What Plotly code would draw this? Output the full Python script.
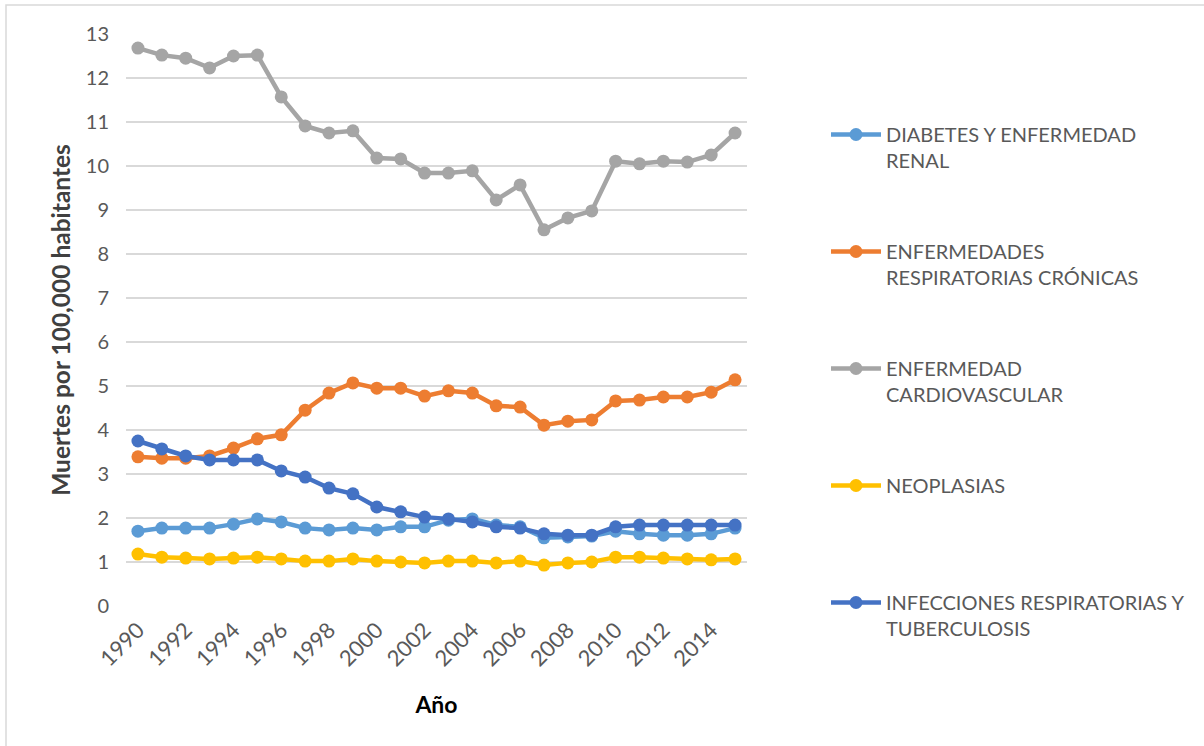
import plotly.graph_objects as go

years = list(range(1990, 2016))

diabetes = [1.70, 1.77, 1.77, 1.77, 1.86, 1.98, 1.91, 1.77, 1.73, 1.77, 1.73, 1.80, 1.80,
            1.95, 1.98, 1.84, 1.80, 1.55, 1.57, 1.59, 1.70, 1.64, 1.61, 1.61, 1.64, 1.77]
respiratorias_cronicas = [3.39, 3.36, 3.36, 3.41, 3.59, 3.80, 3.89, 4.45, 4.84, 5.07, 4.95, 4.95, 4.77,
                          4.89, 4.84, 4.55, 4.52, 4.11, 4.20, 4.23, 4.66, 4.68, 4.75, 4.75, 4.86, 5.14]
cardiovascular = [12.68, 12.52, 12.45, 12.23, 12.50, 12.52, 11.57, 10.91, 10.75, 10.80, 10.18, 10.16, 9.84,
                  9.84, 9.89, 9.23, 9.57, 8.55, 8.82, 8.98, 10.11, 10.05, 10.11, 10.09, 10.25, 10.75]
neoplasias = [1.18, 1.11, 1.09, 1.07, 1.09, 1.11, 1.07, 1.02, 1.02, 1.07, 1.02, 1.00, 0.98,
              1.02, 1.02, 0.98, 1.02, 0.93, 0.98, 1.00, 1.11, 1.11, 1.09, 1.07, 1.05, 1.07]
infecciones = [3.75, 3.57, 3.41, 3.32, 3.32, 3.32, 3.07, 2.93, 2.68, 2.55, 2.25, 2.14, 2.02,
               1.98, 1.91, 1.80, 1.77, 1.64, 1.61, 1.61, 1.80, 1.84, 1.84, 1.84, 1.84, 1.84]

series_names = [
    "DIABETES Y ENFERMEDAD<br>RENAL",
    "ENFERMEDADES<br>RESPIRATORIAS CRÓNICAS",
    "ENFERMEDAD<br>CARDIOVASCULAR",
    "NEOPLASIAS<br> ",
    "INFECCIONES RESPIRATORIAS Y<br>TUBERCULOSIS",
]
series_values = [diabetes, respiratorias_cronicas, cardiovascular, neoplasias, infecciones]
series_colors = ["#5B9BD5", "#ED7D31", "#A5A5A5", "#FFC000", "#4472C4"]

tick_years = list(range(1990, 2016, 2))
y_ticks = list(range(0, 14))

FONT = "Lato"
GREY = "#595959"

L, T, PW, PH = 126, 34, 621, 572


def px_to_paper_x(px):
    return (px - L) / PW


def px_to_paper_y(py):
    return (T + PH - py) / PH


fig = go.Figure()
for i, (name, vals, col) in enumerate(zip(series_names, series_values, series_colors)):
    fig.add_trace(go.Scatter(
        x=years, y=vals, name=name, mode="lines+markers",
        line=dict(color=col, width=4.5),
        marker=dict(color=col, size=13),
        legendgroup=f"g{i}",
    ))

fig.update_layout(
    width=1204, height=746,
    margin=dict(l=L, r=1204 - L - PW, t=T, b=746 - T - PH),
    paper_bgcolor="white", plot_bgcolor="white",
    font=dict(family=FONT, color=GREY, size=20),
    showlegend=True,
    legend=dict(
        x=px_to_paper_x(826), y=px_to_paper_y(115), xanchor="left", yanchor="top",
        font=dict(family=FONT, size=20, color=GREY),
        tracegroupgap=62, valign="top", itemwidth=50,
        bgcolor="rgba(0,0,0,0)",
    ),
    xaxis=dict(
        range=[1989.5, 2015.5], tickmode="array", tickvals=tick_years,
        ticktext=[str(y) for y in tick_years], tickangle=-45,
        showgrid=False, zeroline=False, showline=False, ticks="",
        ticklabelstandoff=6,
        tickfont=dict(family=FONT, size=22, color=GREY),
        title=dict(text="<b>Año</b>", font=dict(family=FONT, size=23, color="#000000"), standoff=26),
    ),
    yaxis=dict(
        range=[0, 13], tickmode="array", tickvals=y_ticks,
        showgrid=True, gridcolor="#D9D9D9", gridwidth=1.5,
        zeroline=False, showline=False, ticks="",
        ticklabelstandoff=16,
        tickfont=dict(family=FONT, size=20, color=GREY),
        title=dict(text="<b>Muertes por 100,000 habitantes</b>", font=dict(family=FONT, size=24.5, color="#404040"), standoff=8),
    ),
    shapes=[
        dict(type="rect", xref="paper", yref="paper",
             x0=px_to_paper_x(6), x1=px_to_paper_x(1230),
             y0=px_to_paper_y(780), y1=px_to_paper_y(5),
             line=dict(color="#D9D9D9", width=1.5), fillcolor="rgba(0,0,0,0)", layer="below"),
    ],
)

fig.write_html("out.html", config={"displayModeBar": False},
               post_script="document.body.style.margin='0';")
